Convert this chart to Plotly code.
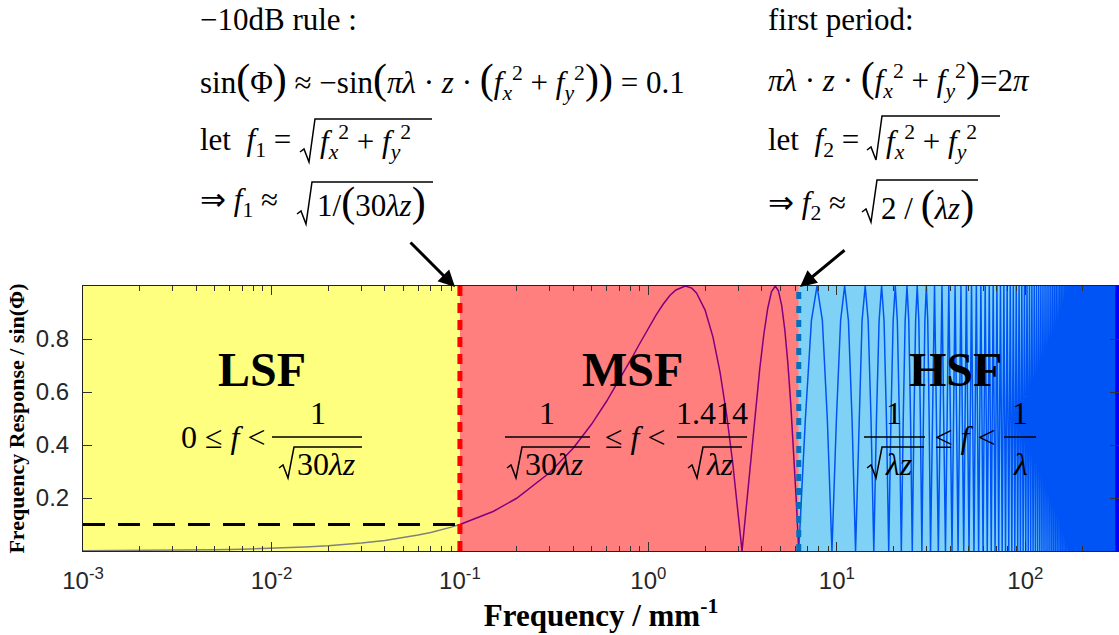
import plotly.graph_objects as go

# ---------------- data ----------------
lsf_freq = [0.001, 0.002, 0.003, 0.005, 0.007, 0.01, 0.015, 0.02, 0.03, 0.04, 0.05, 0.06, 0.07, 0.08, 0.09, 0.1]
lsf_resp = [0.001, 0.002, 0.003, 0.005, 0.007, 0.01, 0.015, 0.02, 0.03, 0.04, 0.05, 0.06, 0.07, 0.08, 0.09, 0.1]

msf_freq = [0.15, 0.2, 0.3, 0.4, 0.5, 0.6, 0.7, 0.8, 0.9, 1.0, 1.1, 1.2, 1.3, 1.4, 1.57, 1.7, 1.8,
            2.0, 2.2, 2.4, 2.6, 2.8, 3.0, 3.14, 3.3, 3.5, 3.7, 3.9, 4.1, 4.3, 4.5, 4.71, 4.9,
            5.1, 5.3, 5.5, 5.7, 5.9, 6.1]
msf_resp = [0.149, 0.199, 0.296, 0.389, 0.479, 0.565, 0.644, 0.717, 0.783, 0.841, 0.891, 0.932, 0.964,
            0.985, 1.0, 0.992, 0.974, 0.909, 0.808, 0.675, 0.516, 0.335, 0.141, 0.0, 0.158, 0.351,
            0.530, 0.688, 0.818, 0.916, 0.978, 1.0, 0.982, 0.926, 0.832, 0.706, 0.551, 0.374, 0.183]

hsf_near_freq = [6.28, 6.81, 7.33, 7.85, 8.38, 8.90,
                 9.42, 9.95, 10.47, 11.00, 11.52, 12.04,
                 12.57, 13.09, 13.61, 14.14, 14.66, 15.18,
                 15.71, 16.23, 16.76, 17.28, 17.80, 18.33,
                 18.85, 19.37, 19.90, 20.42, 20.94, 21.47,
                 21.99, 22.51, 23.04, 23.56, 24.08, 24.61,
                 25.13, 25.66, 26.18, 26.70, 27.23, 27.75,
                 28.27, 28.80, 29.32, 29.85, 30.37, 30.89]
hsf_near_resp = [0.0, 0.5, 0.87, 1.0, 0.87, 0.5] * 8

hsf_far_freq = [31.42, 32.99, 34.56, 36.13, 37.70, 39.27, 40.84, 42.41, 43.98, 45.55, 47.12, 48.69,
                50.27, 51.84, 53.41, 54.98, 56.55, 58.12, 59.69, 61.26, 62.83, 64.40, 65.97, 67.54,
                69.12, 70.69, 72.26, 73.83, 75.40, 76.97, 78.54, 80.11, 81.68, 83.25, 84.82, 86.39,
                87.96, 89.54, 91.11, 92.68, 94.25, 95.82, 97.39, 98.96, 100.53, 102.10, 103.67, 105.24,
                106.81, 108.38, 109.96, 111.53, 113.10, 114.67, 116.24, 117.81, 119.38, 120.95, 122.52,
                124.09, 125.66, 127.23, 128.81, 130.38, 131.95, 133.52, 135.09, 136.66, 138.23, 139.80,
                141.37, 142.94, 144.51, 146.08, 147.65, 149.23, 150.80, 152.37, 153.94, 155.51, 157.08,
                158.65, 160.22, 161.79, 163.36, 164.93, 166.50, 168.07, 169.65, 171.22, 172.79, 174.36,
                175.93, 177.50, 179.07, 180.64, 182.21, 183.78, 185.35, 186.92, 188.50, 190.07, 191.64,
                193.21, 194.78, 196.35, 197.92, 199.49, 201.06, 202.63, 204.20, 205.77, 207.35, 208.92,
                210.49, 212.06, 213.63, 215.20, 216.77, 218.34, 219.91, 221.48, 223.05, 224.62, 226.19,
                227.77, 229.34, 230.91, 232.48, 234.05, 235.62, 237.19, 238.76, 240.33, 241.90, 243.47,
                245.04, 246.62, 248.19, 249.76, 251.33, 252.90, 254.47, 256.04, 257.61, 259.18, 260.75,
                262.32, 263.89, 265.46, 267.04, 268.61, 270.18, 271.75, 273.32, 274.89, 276.46, 278.03,
                279.60, 281.17, 282.74, 284.31, 285.88, 287.45, 289.03, 290.60, 292.17, 293.74, 295.31,
                296.88, 298.45, 300.02, 301.59, 303.16, 304.73, 306.30, 307.88, 309.45, 311.02, 312.59,
                314.16]
hsf_far_resp = [0.0, 1.0] * 91

f1 = 0.1          # -10 dB boundary
f2 = 6.28         # first period boundary
f_end = 300.0     # end of HSF band
f_axis = [0.001, 314.16]
rule_level = 0.1

region_x = [[0.001, f1], [f1, f2], [f2, f_end]]
region_colors = ["rgba(255,255,0,0.5)", "rgba(255,0,0,0.5)", "rgba(0,165,235,0.5)"]

xtick_vals = [0.001, 0.01, 0.1, 1, 10, 100]
xtick_text = ["10<sup>-3</sup>", "10<sup>-2</sup>", "10<sup>-1</sup>", "10<sup>0</sup>",
              "10<sup>1</sup>", "10<sup>2</sup>"]
xminor_vals = [m * d for d in [0.001, 0.01, 0.1, 1, 10] for m in range(2, 10)] + [200, 300]
ytick_vals = [0.2, 0.4, 0.6, 0.8]
ytick_text = ["0.2", "0.4", "0.6", "0.8"]

# ---------------- figure ----------------
W, H = 1119, 635
L, R, T, B = 83, 1119, 286, 551

def px(x):
    return (x - L) / (R - L)

def py(y):
    return (B - y) / (B - T)

fig = go.Figure()

curve_x = lsf_freq + msf_freq + hsf_near_freq + hsf_far_freq
curve_y = lsf_resp + msf_resp + hsf_near_resp + hsf_far_resp
fig.add_trace(go.Scatter(x=curve_x, y=curve_y, mode="lines",
                         line=dict(color="#0000FF", width=1.5), hoverinfo="skip", showlegend=False))

for (xa, xb), col in zip(region_x, region_colors):
    fig.add_trace(go.Scatter(x=[xa, xb, xb, xa, xa], y=[0, 0, 1, 1, 0], mode="lines",
                             fill="toself", fillcolor=col, line=dict(width=0),
                             hoverinfo="skip", showlegend=False))

fig.add_trace(go.Scatter(x=[f_axis[0], f1], y=[rule_level, rule_level], mode="lines",
                         line=dict(color="black", width=3, dash="22px,13px"),
                         hoverinfo="skip", showlegend=False))
fig.add_trace(go.Scatter(x=[f1, f1], y=[0, 1], mode="lines",
                         line=dict(color="#FF0000", width=5, dash="10px,7px"),
                         hoverinfo="skip", showlegend=False))
fig.add_trace(go.Scatter(x=[f2, f2], y=[0, 1], mode="lines",
                         line=dict(color="#0072BD", width=5, dash="7px,7px"),
                         hoverinfo="skip", showlegend=False))

annotations = []
shapes = []

def text(x, y, s, size=31, anchor="center", family="Liberation Serif"):
    annotations.append(dict(x=px(x), y=py(y), xref="paper", yref="paper", text=s,
                            showarrow=False, xanchor=anchor, yanchor="middle",
                            font=dict(family=family, size=size, color="black")))

def hline(x0, x1, y, w=1.5):
    shapes.append(dict(type="line", xref="paper", yref="paper", x0=px(x0), x1=px(x1),
                       y0=py(y), y1=py(y), line=dict(color="black", width=w)))

def radical(x0, x_end, y_top, y_bot, w=1.5):
    pts = [(x0, y_bot - 10), (x0 + 4, y_bot - 13), (x0 + 9, y_bot), (x0 + 15, y_top), (x_end, y_top)]
    path = "M " + " L ".join(f"{px(a):.5f},{py(b):.5f}" for a, b in pts)
    shapes.append(dict(type="path", xref="paper", yref="paper", path=path,
                       line=dict(color="black", width=w)))

I = lambda s: f"<i>{s}</i>"
fx2 = f"{I('f')}<sub>{I('x')}</sub><sup>2</sup> + {I('f')}<sub>{I('y')}</sub><sup>2</sup>"
big = lambda c: f"<span style='font-size:42px'>{c}</span>"

# top-left block
text(198, 20, "−10dB rule :", anchor="left")
text(198, 80, f"sin{big('(')}Φ{big(')')} ≈ −sin{big('(')}{I('πλ')} · {I('z')} · {big('(')}{fx2}{big(')')}{big(')')} = 0.1",
     anchor="left")
text(198, 142, f"let  {I('f')}<sub>1</sub> =", anchor="left")
radical(300, 432, 119, 162)
text(318, 142, fx2, anchor="left")
text(198, 202, f"⇒ {I('f')}<sub>1</sub> ≈", anchor="left")
radical(297, 433, 182, 224)
text(315, 202, f"1/{big('(')}30{I('λz')}{big(')')}", anchor="left")

# top-right block
text(766, 20, "first period:", anchor="left")
text(766, 78, f"{I('πλ')} · {I('z')} · {big('(')}{fx2}{big(')')}=2{I('π')}", anchor="left")
text(766, 142, f"let  {I('f')}<sub>2</sub> =", anchor="left")
radical(867, 1000, 116, 160)
text(884, 142, fx2, anchor="left")
text(766, 205, f"⇒ {I('f')}<sub>2</sub> ≈", anchor="left")
radical(862, 978, 180, 222)
text(879, 205, f"2 / {big('(')}{I('λz')}{big(')')}", anchor="left")

# arrows
annotations.append(dict(x=px(455), y=py(287), xref="paper", yref="paper", text="", showarrow=True,
                        ax=-46, ay=-46, arrowhead=2, arrowsize=1.1, arrowwidth=3, arrowcolor="black"))
annotations.append(dict(x=px(800), y=py(287), xref="paper", yref="paper", text="", showarrow=True,
                        ax=46, ay=-38, arrowhead=2, arrowsize=1.1, arrowwidth=3, arrowcolor="black"))

# region names
for xc, name in [(262, "LSF"), (632, "MSF"), (955, "HSF")]:
    text(xc, 369, f"<b>{name}</b>", size=48)

FS = 32
# LSF formula
text(268, 437, f"0 ≤ {I('f')} <", size=FS, anchor="right")
hline(272, 362, 437)
text(318, 413, "1", size=FS)
radical(279, 362, 447, 478)
text(295, 464, f"30{I('λz')}", size=FS, anchor="left")

# MSF formula
hline(505, 590, 437)
text(547, 413, "1", size=FS)
radical(507, 590, 447, 478)
text(523, 464, f"30{I('λz')}", size=FS, anchor="left")
text(635, 437, f"≤ {I('f')} <", size=FS)
hline(677, 747, 437)
text(712, 413, "1.414", size=FS)
radical(688, 742, 447, 478)
text(704, 464, I("λz"), size=FS, anchor="left")

# HSF formula
hline(864, 925, 437)
text(894, 413, "1", size=FS)
radical(867, 924, 447, 478)
text(883, 464, I("λz"), size=FS, anchor="left")
text(965, 437, f"≤ {I('f')} <", size=FS)
hline(1004, 1036, 437)
text(1020, 413, "1", size=FS)
text(1020, 464, I("λ"), size=FS)

fig.update_layout(
    width=W, height=H,
    margin=dict(l=L, r=W - R, t=T, b=H - B),
    paper_bgcolor="white", plot_bgcolor="white",
    annotations=annotations, shapes=shapes,
    xaxis=dict(type="log", range=[-3, 2.4972], tickmode="array", tickvals=xtick_vals,
               ticktext=xtick_text, ticks="inside", ticklen=9, tickwidth=1, tickcolor="#333",
               showline=True, linecolor="#222", linewidth=1, mirror="ticks", showgrid=False,
               zeroline=False, ticklabelstandoff=8,
               tickfont=dict(family="Liberation Sans", size=24, color="#262626"),
               minor=dict(tickmode="array", tickvals=xminor_vals, ticks="inside", ticklen=5,
                          tickcolor="#333", showgrid=False),
               title=dict(text="<b>Frequency / mm<sup>-1</sup></b>", standoff=2,
                          font=dict(family="Liberation Serif", size=31, color="black"))),
    yaxis=dict(range=[0, 1], tickmode="array", tickvals=ytick_vals, ticktext=ytick_text,
               ticks="inside", ticklen=9, tickcolor="#333", showline=True, linecolor="#222",
               linewidth=1, mirror="ticks", showgrid=False, zeroline=False, ticklabelstandoff=8,
               tickfont=dict(family="Liberation Sans", size=24, color="#262626"),
               title=dict(text="<b>Frequency Response / sin(Φ)</b>", standoff=5,
                          font=dict(family="Liberation Serif", size=22, color="black"))),
)

fig.write_html("out.html")
